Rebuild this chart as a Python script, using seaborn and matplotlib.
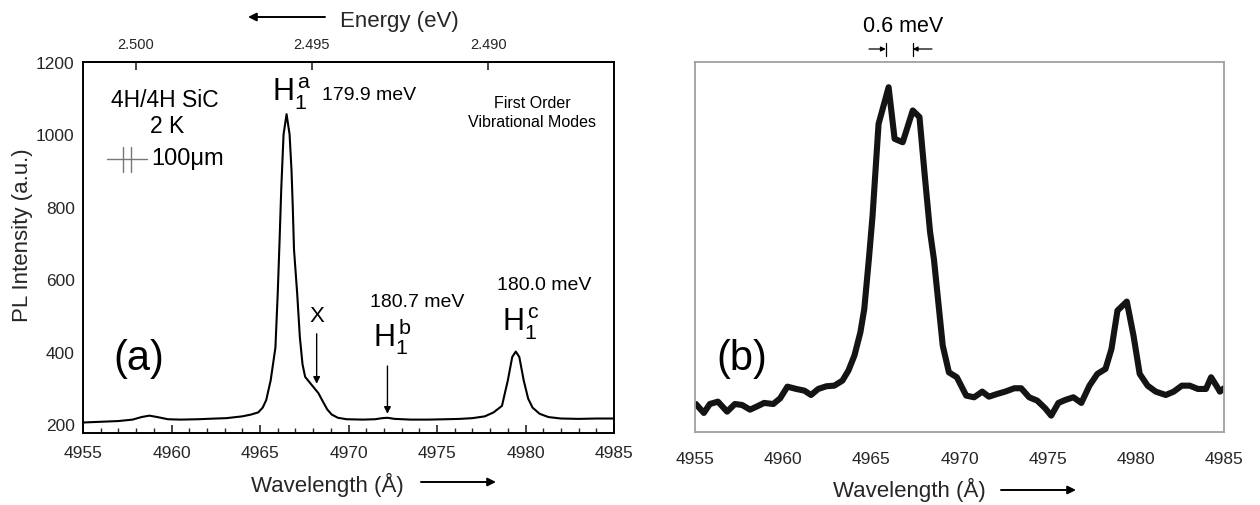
import matplotlib
matplotlib.use("Agg")
import matplotlib.pyplot as plt
from matplotlib.ticker import MultipleLocator, FixedLocator, NullFormatter
import pandas as pd
import seaborn as sns

# ---- PL spectrum (a): 4H/4H SiC at 2 K ----
wl_a = [4955.0, 4956.0, 4957.0, 4957.8, 4958.3, 4958.75, 4959.2, 4959.8, 4960.5,
        4961.5, 4962.5, 4963.1, 4964.0, 4964.5, 4964.9, 4965.15, 4965.35, 4965.6,
        4965.87, 4966.0, 4966.1, 4966.2, 4966.33, 4966.5, 4966.67, 4966.78, 4966.85,
        4966.92, 4967.1, 4967.25, 4967.4, 4967.55, 4967.8, 4968.05, 4968.3, 4968.55,
        4968.8, 4969.05, 4969.4, 4969.9, 4970.8, 4971.5, 4971.9, 4972.2, 4972.6,
        4973.5, 4974.5, 4975.5, 4976.3, 4977.0, 4977.7, 4978.2, 4978.67, 4979.0,
        4979.25, 4979.45, 4979.65, 4979.9, 4980.15, 4980.4, 4980.8, 4981.3, 4982.0,
        4983.0, 4984.0, 4985.0]
pl_a = [204, 206, 208, 212, 219, 223, 219, 213, 212,
        213, 215, 216, 221, 226, 232, 245, 266, 320,
        411, 560, 700, 850, 1000, 1056, 1000, 900, 800,
        682, 560, 440, 365, 330, 315, 300, 285, 262,
        240, 226, 217, 213, 212, 213, 216, 217, 214,
        212, 212, 213, 214, 216, 221, 232, 250, 320,
        385, 400, 385, 320, 270, 245, 228, 219, 215,
        214, 215, 215]

# ---- PL spectrum (b): higher resolution scan ----
wl_b = [4955.05, 4955.5, 4955.84, 4956.3, 4956.82, 4957.26, 4957.67, 4958.12, 4958.53,
        4958.92, 4959.44, 4959.83, 4960.24, 4960.74, 4961.2, 4961.58, 4961.99, 4962.45,
        4962.9, 4963.36, 4963.7, 4964.04, 4964.38, 4964.6, 4964.86, 4965.07, 4965.41,
        4965.98, 4966.32, 4966.78, 4967.35, 4967.73, 4968.03, 4968.33, 4968.55, 4968.78,
        4969.05, 4969.4, 4969.85, 4970.38, 4970.83, 4971.29, 4971.67, 4972.13, 4972.59,
        4973.11, 4973.5, 4973.95, 4974.41, 4974.86, 4975.2, 4975.61, 4976.0, 4976.46,
        4976.91, 4977.37, 4977.82, 4978.28, 4978.62, 4978.96, 4979.49, 4979.87, 4980.22,
        4980.67, 4981.13, 4981.7, 4982.15, 4982.61, 4983.06, 4983.52, 4983.98, 4984.27,
        4984.66, 4984.77, 4985.0]
pl_b = [36.6, 24.9, 36.6, 39.7, 26.6, 36.6, 35.3, 29.2, 33.6,
        38.0, 36.6, 44.1, 59.3, 56.3, 54.1, 48.4, 56.3, 59.8,
        60.6, 67.2, 80.3, 99.9, 130.5, 161.0, 226.0, 283.0, 403.0,
        451.0, 383.5, 379.0, 420.6, 412.0, 335.5, 262.0, 226.0, 174.0,
        113.0, 78.0, 71.6, 47.6, 45.4, 52.8, 46.2, 49.7, 52.8,
        57.2, 57.2, 45.4, 41.0, 31.0, 21.4, 38.0, 41.9, 45.4,
        38.0, 60.6, 76.0, 82.5, 108.6, 158.8, 170.6, 126.0, 76.0,
        60.6, 52.8, 48.4, 52.8, 60.6, 60.6, 56.3, 56.3, 71.6,
        57.2, 52.8, 57.2]

wl_ticks = [4955, 4960, 4965, 4970, 4975, 4980, 4985]
pl_a_ticks = [200, 400, 600, 800, 1000, 1200]
pl_b_ticks = [0, 100, 200, 300, 400]
energy_ticks = [2.500, 2.495, 2.490]
energy_tick_labels = ["2.500", "2.495", "2.490"]

# photon energy from air wavelength
HC = 12398.42
N_AIR = 1.000278


def wl_to_energy(wl):
    return HC / (wl * N_AIR)


def energy_to_wl(e):
    return HC / (e * N_AIR)


sns.set_style("white")
plt.rcParams["font.family"] = ["Liberation Sans", "DejaVu Sans"]
plt.rcParams["mathtext.fontset"] = "custom"
plt.rcParams["mathtext.rm"] = "Liberation Sans"
plt.rcParams["mathtext.it"] = "Liberation Sans:italic"

fig = plt.figure(figsize=(12.6, 5.06), dpi=100)
fig.patch.set_facecolor("white")

ax_a = fig.add_axes([0.0659, 0.1423, 0.4214, 0.7332])
ax_b = fig.add_axes([0.5516, 0.1443, 0.4198, 0.7312])

df_a = pd.DataFrame({"wl": wl_a, "pl": pl_a})
df_b = pd.DataFrame({"wl": wl_b, "pl": pl_b})

# ---------------- panel (a) ----------------
sns.lineplot(data=df_a, x="wl", y="pl", ax=ax_a, color="black", lw=1.5,
             sort=False, estimator=None)
ax_a.set_xlim(4955, 4985)
ax_a.set_ylim(175, 1200)
ax_a.set_xlabel("")
ax_a.set_ylabel("")
ax_a.xaxis.set_major_locator(FixedLocator(wl_ticks))
ax_a.xaxis.set_minor_locator(MultipleLocator(1))
ax_a.yaxis.set_major_locator(FixedLocator(pl_a_ticks))
ax_a.tick_params(axis="x", which="major", direction="in", length=6, width=1.2,
                 labelsize=12.5, pad=9, bottom=True, top=False)
ax_a.tick_params(axis="x", which="minor", direction="in", length=3.5, width=1.0,
                 bottom=True, top=False)
ax_a.tick_params(axis="y", which="both", length=0, labelsize=12.5, pad=6)
for s in ax_a.spines.values():
    s.set_color("black")
    s.set_linewidth(1.4)

sec = ax_a.secondary_xaxis("top", functions=(wl_to_energy, energy_to_wl))
sec.set_xticks(energy_ticks, labels=energy_tick_labels)
sec.xaxis.set_minor_formatter(NullFormatter())
sec.tick_params(axis="x", which="major", direction="in", length=6, width=1.2,
                labelsize=10.5, pad=8)
sec.tick_params(axis="x", which="minor", length=0)
sec.spines["top"].set_linewidth(1.4)

txt = dict(color="black", clip_on=False)
ax_a.text(4959.63, 1078, "4H/4H SiC", ha="center", va="baseline", fontsize=16.5, **txt)
ax_a.text(4959.75, 1006, "2 K", ha="center", va="baseline", fontsize=16.5, **txt)
# spatial scale bar
ax_a.plot([4956.36, 4958.62], [932, 932], color="#777777", lw=1.0)
ax_a.plot([4957.26, 4957.26], [896, 965], color="#777777", lw=1.0)
ax_a.plot([4957.71, 4957.71], [896, 965], color="#777777", lw=1.0)
ax_a.text(4958.84, 934, "100\u03bcm", ha="left", va="center", fontsize=17, **txt)

ax_a.text(4965.68, 1093, r"$\mathregular{H_1^{\,a}}$", ha="left", va="baseline",
          fontsize=22, **txt)
ax_a.text(4968.5, 1098, "179.9 meV", ha="left", va="baseline", fontsize=14, **txt)
ax_a.text(4980.37, 1076, "First Order", ha="center", va="baseline", fontsize=11.5, **txt)
ax_a.text(4980.37, 1023, "Vibrational Modes", ha="center", va="baseline",
          fontsize=11.5, **txt)

ax_a.text(4968.19, 485, "X", ha="center", va="baseline", fontsize=16, **txt)
ax_a.annotate("", xy=(4968.2, 311), xytext=(4968.2, 449),
              arrowprops=dict(arrowstyle="-|>", color="black", lw=1.0,
                              mutation_scale=10, shrinkA=0, shrinkB=0))
ax_a.text(4973.87, 527, "180.7 meV", ha="center", va="baseline", fontsize=14, **txt)
ax_a.text(4971.38, 416, r"$\mathregular{H_1^{\,b}}$", ha="left", va="baseline",
          fontsize=22, **txt)
ax_a.annotate("", xy=(4972.2, 228), xytext=(4972.2, 360),
              arrowprops=dict(arrowstyle="-|>", color="black", lw=1.0,
                              mutation_scale=10, shrinkA=0, shrinkB=0))
ax_a.text(4981.05, 573, "180.0 meV", ha="center", va="baseline", fontsize=14, **txt)
ax_a.text(4978.67, 457, r"$\mathregular{H_1^{\,c}}$", ha="left", va="baseline",
          fontsize=22, **txt)
ax_a.text(4958.16, 383, "(a)", ha="center", va="center", fontsize=30, **txt)

# ---------------- panel (b) ----------------
sns.lineplot(data=df_b, x="wl", y="pl", ax=ax_b, color="#141414", lw=4.4,
             sort=False, estimator=None)
ax_b.lines[-1].set_solid_joinstyle("round")
ax_b.lines[-1].set_solid_capstyle("round")
ax_b.set_xlim(4955, 4985)
ax_b.set_ylim(0, 484)
ax_b.set_xlabel("")
ax_b.set_ylabel("")
ax_b.xaxis.set_major_locator(FixedLocator(wl_ticks))
ax_b.yaxis.set_major_locator(FixedLocator(pl_b_ticks))
ax_b.yaxis.set_major_formatter(NullFormatter())
ax_b.tick_params(axis="x", direction="out", length=5, width=1.0, color="#999999",
                 labelsize=12.5, pad=8.5)
ax_b.tick_params(axis="y", direction="out", length=5, width=1.0, color="#999999")
for s in ax_b.spines.values():
    s.set_color("#a0a0a0")
    s.set_linewidth(1.3)

ax_b.text(4957.67, 97, "(b)", ha="center", va="center", fontsize=30, **txt)
ax_b.text(4966.8, 525, "0.6 meV", ha="center", va="baseline", fontsize=15.5, **txt)
ax_b.annotate("", xy=(4965.82, 501), xytext=(4964.87, 501), annotation_clip=False,
              arrowprops=dict(arrowstyle="-|>", color="black", lw=0.9,
                              mutation_scale=7, shrinkA=0, shrinkB=0))
ax_b.annotate("", xy=(4967.35, 501), xytext=(4968.44, 501), annotation_clip=False,
              arrowprops=dict(arrowstyle="-|>", color="black", lw=0.9,
                              mutation_scale=7, shrinkA=0, shrinkB=0))
ax_b.plot([4965.82, 4965.82], [492, 509], color="black", lw=0.9, clip_on=False)
ax_b.plot([4967.35, 4967.35], [492, 509], color="black", lw=0.9, clip_on=False)

# ---------------- axis titles with direction arrows ----------------
fig.text(0.0175, 0.5356, "PL Intensity (a.u.)", rotation=90, ha="center",
         va="center", fontsize=16)
fig.text(327 / 1260, 1 - 492 / 506, "Wavelength (\u00c5)", ha="center",
         va="baseline", fontsize=16)
fig.text(909 / 1260, 1 - 497 / 506, "Wavelength (\u00c5)", ha="center",
         va="baseline", fontsize=16)
fig.text(399.5 / 1260, 1 - 27 / 506, "Energy (eV)", ha="center", va="baseline",
         fontsize=16)

arrow_kw = dict(arrowstyle="-|>", color="black", lw=1.4, mutation_scale=12,
                shrinkA=0, shrinkB=0)
fig.add_artist(matplotlib.patches.FancyArrowPatch(
    (421 / 1260, 1 - 483 / 506), (496 / 1260, 1 - 483 / 506),
    transform=fig.transFigure, **arrow_kw))
fig.add_artist(matplotlib.patches.FancyArrowPatch(
    (1001 / 1260, 1 - 491 / 506), (1076 / 1260, 1 - 491 / 506),
    transform=fig.transFigure, **arrow_kw))
fig.add_artist(matplotlib.patches.FancyArrowPatch(
    (325 / 1260, 1 - 18 / 506), (248 / 1260, 1 - 18 / 506),
    transform=fig.transFigure, **arrow_kw))

fig.savefig("out.png", dpi=100, facecolor="white")
